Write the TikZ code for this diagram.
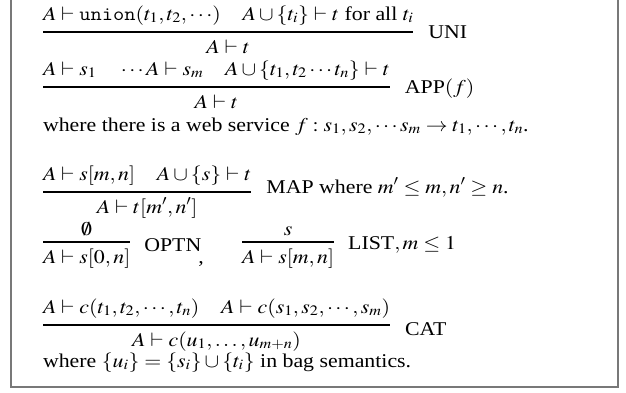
\documentclass[tikz,border=0pt]{standalone}
\usepackage{mathptmx}
\usepackage{fontspec}
\setmainfont{Liberation Serif}
\usepackage{graphicx}
\usetikzlibrary{calc}
\definecolor{framegray}{RGB}{120,120,120}
\newcommand{\sx}[1]{\scalebox{1.12}[1]{#1}}
\tikzset{
  txt/.style={inner sep=0pt, outer sep=0pt, font=\fontsize{19.5}{23}\selectfont},
  fracbar/.style={line width=1.1pt, black},
  frame/.style={draw=framegray, line width=1.6pt}
}
\begin{document}
\begin{tikzpicture}[x=1pt,y=-1pt]
\useasboundingbox (0,0) rectangle (626,392);
\draw[frame] (11,-5) rectangle (618,387);

% UNI
\node[txt,anchor=base west] (n1) at (43,20) {\sx{$A\vdash\texttt{union}(t_1,t_2,\cdots)\quad A\cup\{t_i\}\vdash t$ for all $t_i$}};
\coordinate (y1) at (0,32);
\draw[fracbar] (n1.west|-y1) -- coordinate[pos=.5] (m1) (n1.east|-y1);
\node[txt,anchor=base] (d1) at ($(m1)+(0,21)$) {\sx{$A\vdash t$}};
\node[txt,anchor=base west] (l1) at ($(n1.east|-y1)+(15,6)$) {\sx{UNI}};

% APP
\node[txt,anchor=base west] (n2) at (43,75) {\sx{$A\vdash s_1\quad \cdots A\vdash s_m\quad A\cup\{t_1,t_2\cdots t_n\}\vdash t$}};
\coordinate (y2) at (0,87);
\draw[fracbar] (n2.west|-y2) -- coordinate[pos=.5] (m2) (n2.east|-y2);
\node[txt,anchor=base] (d2) at ($(m2)+(0,21)$) {\sx{$A\vdash t$}};
\node[txt,anchor=base west] (l2) at ($(n2.east|-y2)+(15,6)$) {\sx{APP$(f)$}};
\node[txt,anchor=base west] (w1) at (43,131) {\sx{where there is a web service $f:s_1,s_2,\cdots s_m\to t_1,\cdots,t_n$.}};

% MAP
\node[txt,anchor=base west] (n3) at (43,180) {\sx{$A\vdash s[m,n]\quad A\cup\{s\}\vdash t$}};
\coordinate (y3) at (0,192);
\draw[fracbar] (n3.west|-y3) -- coordinate[pos=.5] (m3) (n3.east|-y3);
\node[txt,anchor=base] (d3) at ($(m3)+(0,21)$) {\sx{$A\vdash t[m',n']$}};
\node[txt,anchor=base west] (l3) at ($(n3.east|-y3)+(15,1)$) {\sx{MAP where $m'\leq m,n'\geq n$.}};

% OPTN
\coordinate (y4) at (0,242);
\node[txt,anchor=base west] (d4) at (43,263) {\sx{$A\vdash s[0,n]$}};
\draw[fracbar] (d4.west|-y4) -- coordinate[pos=.5] (m4) (d4.east|-y4);
\node[txt,anchor=base] (n4) at ($(m4)+(0,-7)$) {\sx{$\emptyset$}};
\node[txt,anchor=base west] (l4) at ($(d4.east|-y4)+(14,9)$) {\sx{OPTN}};
\node[txt,anchor=base west] (c4) at ($(l4.base east)+(-3,12)$) {\sx{,}};

% LIST
\node[txt,anchor=base west] (d5) at (242,263) {\sx{$A\vdash s[m,n]$}};
\draw[fracbar] (d5.west|-y4) -- coordinate[pos=.5] (m5) (d5.east|-y4);
\node[txt,anchor=base] (n5) at ($(m5)+(0,-7)$) {\sx{$s$}};
\node[txt,anchor=base west] (l5) at ($(d5.east|-y4)+(14,7)$) {\sx{LIST$,m\leq 1$}};

% CAT
\node[txt,anchor=base west] (n6) at (43,313) {\sx{$A\vdash c(t_1,t_2,\cdots,t_n)\quad A\vdash c(s_1,s_2,\cdots,s_m)$}};
\coordinate (y6) at (0,325);
\draw[fracbar] (n6.west|-y6) -- coordinate[pos=.5] (m6) (n6.east|-y6);
\node[txt,anchor=base] (d6) at ($(m6)+(0,21)$) {\sx{$A\vdash c(u_1,\ldots,u_{m+n})$}};
\node[txt,anchor=base west] (l6) at ($(n6.east|-y6)+(15,10)$) {\sx{CAT}};
\node[txt,anchor=base west] (w2) at (43,367) {\sx{where $\{u_i\}=\{s_i\}\cup\{t_i\}$ in bag semantics.}};
\end{tikzpicture}
\end{document}
